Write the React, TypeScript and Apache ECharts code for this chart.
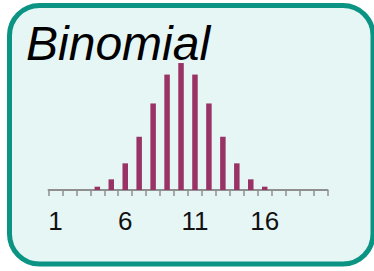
import React, { useEffect, useRef } from "react";
import * as echarts from "echarts";

const titleText = "Binomial";
const categories = ["1","2","3","4","5","6","7","8","9","10","11","12","13","14","15","16","17","18","19","20"];
const probabilities = [0, 0, 0, 0.0046, 0.0148, 0.037, 0.0739, 0.1201, 0.1602, 0.1762, 0.1602, 0.1201, 0.0739, 0.037, 0.0148, 0.0046, 0, 0, 0, 0];

export default function App() {
  const ref = useRef<HTMLDivElement>(null);
  useEffect(() => {
    if (!ref.current) return;
    const chart = echarts.init(ref.current, null, { renderer: "svg" });
    chart.setOption({
      animation: false,
      backgroundColor: "#ffffff",
      graphic: [
        {
          type: "rect",
          z: -10,
          silent: true,
          shape: { x: 9.5, y: 5.5, width: 363.5, height: 258.5, r: 30 },
          style: { fill: "#e6f6f5", stroke: "#0b9384", lineWidth: 5 },
        },
      ],
      title: {
        text: titleText,
        left: 26,
        top: 19,
        padding: 0,
        textStyle: {
          fontFamily: "Liberation Sans, Arial, sans-serif",
          fontStyle: "italic",
          fontWeight: "normal",
          fontSize: 48,
          color: "#000000",
        },
      },
      grid: { left: 48.5, right: 46.5, top: 60.3, bottom: 81 },
      xAxis: {
        type: "category",
        data: categories,
        boundaryGap: true,
        axisLine: { lineStyle: { color: "#8f8f8f", width: 2 } },
        axisTick: { show: true, interval: 0, length: 6, lineStyle: { color: "#8f8f8f", width: 1.5 } },
        axisLabel: {
          interval: 4,
          margin: 18,
          fontSize: 26,
          color: "#111111",
          fontFamily: "Liberation Sans, Arial, sans-serif",
        },
      },
      yAxis: {
        type: "value",
        min: 0,
        max: 0.18,
        show: false,
        splitLine: { show: false },
      },
      series: [
        {
          type: "bar",
          data: probabilities,
          barWidth: 5.5,
          itemStyle: { color: "#993366" },
        },
      ],
    });
    return () => chart.dispose();
  }, []);
  return (
    <div
      ref={ref}
      style={{ position: "fixed", left: 0, top: 0, width: 374, height: 271 }}
    />
  );
}
